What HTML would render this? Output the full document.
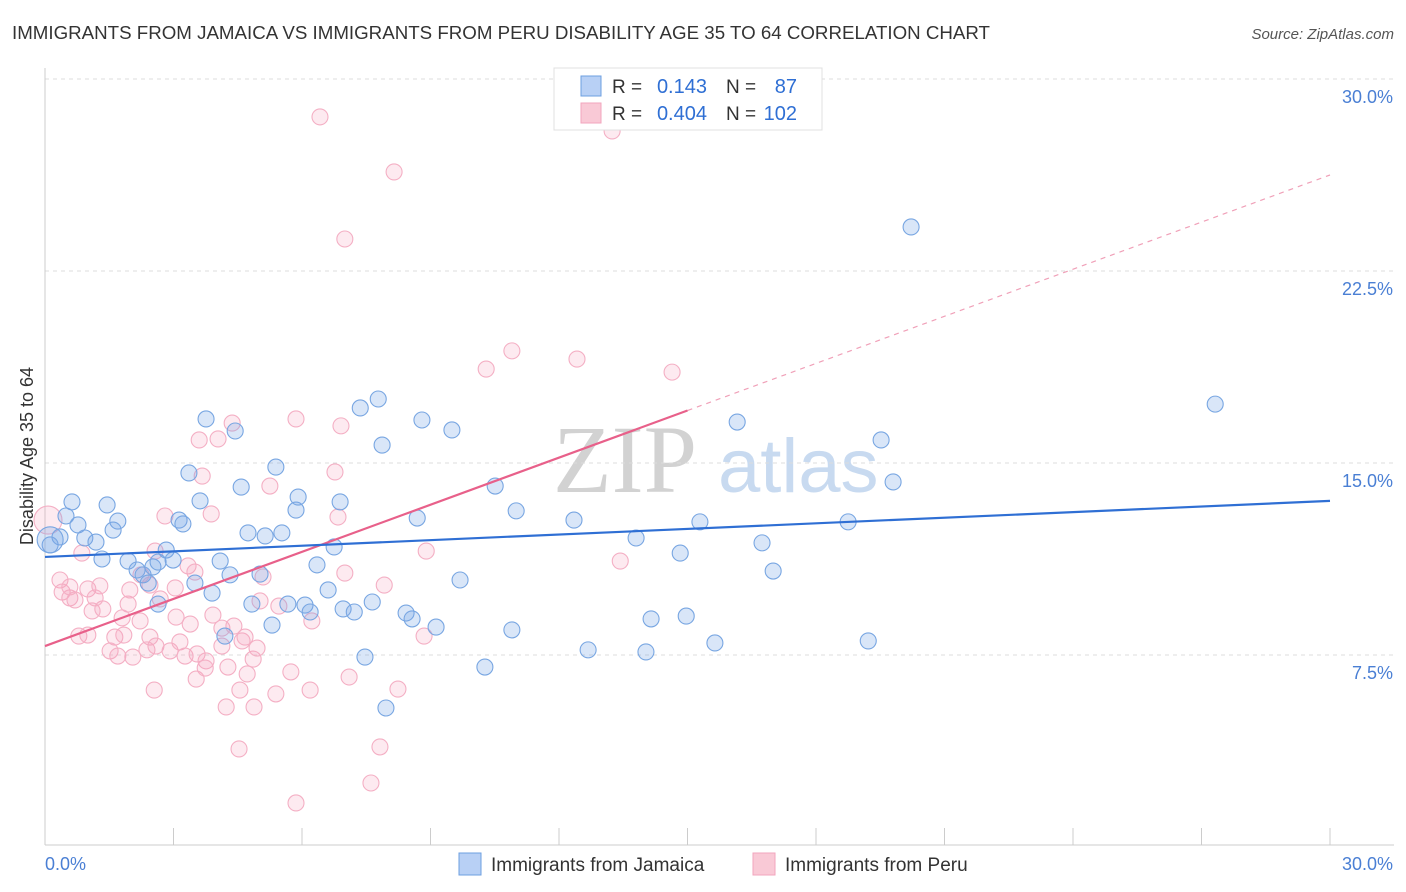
<!DOCTYPE html>
<html><head><meta charset="utf-8"><style>
body{margin:0;background:#fff;font-family:"Liberation Sans",sans-serif;}
#wrap{position:relative;width:1406px;height:892px;overflow:hidden;}
</style></head><body>
<div id="wrap">
<svg id="chart" width="1406" height="892"></svg>
</div>
<script>
const yTicks=[7.5,15.0,22.5,30.0];
const yTickLabels=["7.5%","15.0%","22.5%","30.0%"];
const xTickLabels=["0.0%","30.0%"];
const jamX=[0.63,0.49,0.77,0.35,0.12,0.93,1.19,1.45,1.70,1.59,1.33,1.94,2.15,2.29,2.52,2.41,2.64,2.83,2.99,2.64,3.13,3.22,3.36,3.50,3.62,3.76,3.90,4.09,4.20,4.32,4.44,4.58,4.74,4.83,5.02,5.14,5.30,5.39,5.53,5.67,5.86,5.91,6.07,6.19,6.35,6.61,6.75,6.89,6.96,7.22,7.36,7.47,7.64,7.78,7.87,7.96,8.43,8.57,8.69,8.80,9.13,9.50,9.69,10.27,10.51,10.90,11.00,12.35,12.68,13.80,14.03,14.15,14.83,14.97,15.29,15.64,16.16,16.74,17.00,18.75,19.22,19.52,19.80,20.22,27.32,0.12];
const jamY=[13.48,12.93,12.58,12.11,11.80,12.07,11.91,13.36,12.73,12.38,11.25,11.17,10.82,10.63,10.94,10.31,11.13,11.60,11.21,9.49,12.77,12.62,14.61,10.31,13.52,16.72,9.92,11.17,8.24,10.63,16.25,14.06,12.27,9.49,10.66,12.15,8.67,14.84,12.27,9.49,13.16,13.67,9.45,9.18,11.02,10.04,11.72,13.48,9.30,9.18,17.15,7.42,9.57,17.50,15.70,5.43,9.14,8.91,12.85,16.68,8.59,16.29,10.43,7.03,14.10,8.48,13.13,12.77,7.70,12.07,7.62,8.91,11.48,9.02,12.70,7.97,16.60,11.88,10.78,12.70,8.05,15.90,14.26,24.22,17.30,12.0];
const peruX=[6.42,13.24,8.15,7.00,10.90,10.30,12.42,14.64,5.86,6.91,4.37,4.04,3.60,3.67,5.25,6.77,2.80,3.88,6.84,0.07,0.86,2.57,3.34,3.50,5.09,7.00,8.90,7.92,13.43,0.35,0.40,0.58,0.70,1.00,1.28,1.35,1.10,1.94,1.98,2.24,2.45,2.69,3.04,3.06,3.39,3.92,4.13,4.41,5.46,6.23,1.80,0.79,1.00,1.63,1.84,2.22,2.45,1.52,1.70,2.05,2.38,2.59,2.92,3.15,3.27,3.55,3.76,4.13,4.27,4.60,4.86,4.95,5.74,4.72,3.53,2.55,4.55,5.39,6.19,7.10,8.24,4.23,4.88,4.53,7.82,5.86,7.61,8.85,0.58,1.17,4.67,5.02,3.74];
const peruY=[28.52,27.97,26.37,23.75,19.38,18.67,19.06,18.55,16.72,16.45,16.56,15.94,15.90,14.49,14.10,14.65,12.93,13.01,12.89,12.77,11.48,11.56,10.98,10.74,10.55,10.70,11.56,10.23,11.17,10.43,9.96,9.73,9.65,10.08,10.20,9.30,9.22,9.49,10.04,10.63,10.23,9.69,10.12,8.98,8.71,9.06,8.55,8.63,9.41,8.83,8.95,8.24,8.28,8.20,8.28,8.83,8.20,7.66,7.46,7.42,7.70,7.85,7.66,8.01,7.46,7.54,7.27,7.85,7.03,8.05,7.34,7.77,6.84,6.76,6.56,6.13,6.13,5.98,6.13,6.64,6.17,5.47,5.47,3.83,3.91,1.72,2.50,8.24,10.16,9.73,8.20,9.61,6.99];
const jamTrend=[11.33,13.52];
const peruTrend=[7.85,26.25];
const peruSolidEnd=15.0;

const X0=45,X1=1330,Y0=847,PXPER=192/7.5;
const xs=v=>X0+(v/30)*(X1-X0);
const ys=v=>Y0-v*PXPER;
const svg=document.getElementById('chart');
const NS='http://www.w3.org/2000/svg';
function mk(tag,attrs,parent){const e=document.createElementNS(NS,tag);for(const k in attrs)e.setAttribute(k,attrs[k]);(parent||svg).appendChild(e);return e;}

let t=mk('text',{x:12,y:39,'font-size':18,fill:'#333',textLength:978,lengthAdjust:'spacingAndGlyphs'});t.textContent='IMMIGRANTS FROM JAMAICA VS IMMIGRANTS FROM PERU DISABILITY AGE 35 TO 64 CORRELATION CHART';


t=mk('text',{x:1394,y:39,'font-size':15,fill:'#555','text-anchor':'end','font-style':'italic'});t.textContent='Source: ZipAtlas.com';



t=mk('text',{x:553,y:492,'font-size':96,fill:'#d2d2d2','font-family':'Liberation Serif, serif'});t.textContent='ZIP';


t=mk('text',{x:718,y:492,'font-size':76,fill:'#c8daf0'});t.textContent='atlas';



yTicks.forEach((v,i)=>{
 const g=mk('line',{x1:X0,x2:1394,y1:ys(v),y2:ys(v),stroke:'#dcdcdc','stroke-dasharray':'4,4'});
 
 
 const l=mk('text',{x:1393,y:ys(v)+24,'font-size':18,fill:'#4a7fd4','text-anchor':'end'});l.textContent=yTickLabels[i];
 
 
});
let a=mk('line',{x1:X0,x2:X0,y1:68,y2:Y0-2,stroke:'#ccc'});


a=mk('line',{x1:X0,x2:1394,y1:845,y2:845,stroke:'#ccc'});


for(let i=0;i<=10;i++){const x=X0+i*(X1-X0)/10;const tk=mk('line',{x1:x,x2:x,y1:828,y2:845,stroke:'#ccc'});
 
 }
t=mk('text',{x:45,y:870,'font-size':18,fill:'#4a7fd4'});t.textContent=xTickLabels[0];


t=mk('text',{x:1393,y:870,'font-size':18,fill:'#4a7fd4','text-anchor':'end'});t.textContent=xTickLabels[1];


t=mk('text',{x:0,y:0,'font-size':18,fill:'#333','text-anchor':'middle',transform:'translate(33,456) rotate(-90)'});t.textContent='Disability Age 35 to 64';



peruX.forEach((v,i)=>{const c=mk('circle',{cx:xs(v),cy:ys(peruY[i]),r:(i==19?14:8),fill:'rgba(244,160,188,0.22)',stroke:'#f4afc4','stroke-width':1.1});
 
 });
jamX.forEach((v,i)=>{const c=mk('circle',{cx:xs(v),cy:ys(jamY[i]),r:(i==jamX.length-1?13:8),fill:'rgba(120,165,230,0.28)',stroke:'#78a6e2','stroke-width':1.1});
 
 });

const ptY=x=>peruTrend[0]+(peruTrend[1]-peruTrend[0])*x/30;
let ln=mk('line',{x1:xs(peruSolidEnd),y1:ys(ptY(peruSolidEnd)),x2:xs(30),y2:ys(ptY(30)),stroke:'#f0a0b8','stroke-dasharray':'5,5','stroke-width':1.2});


ln=mk('line',{x1:xs(0),y1:ys(ptY(0)),x2:xs(peruSolidEnd),y2:ys(ptY(peruSolidEnd)),stroke:'#e8608a','stroke-width':2.2});


ln=mk('line',{x1:xs(0),y1:ys(jamTrend[0]),x2:xs(30),y2:ys(jamTrend[1]),stroke:'#2f6fd4','stroke-width':2.2});



const lg=mk('g',{});


mk('rect',{x:554,y:68,width:268,height:62,fill:'#fff',stroke:'#e0e0e0'},lg);
[[0,'#b8d0f5','#6d9fe0','0.143','87'],[1,'#f9c9d6','#f2a5bd','0.404','102']].forEach(r=>{
 const y=86+r[0]*27;
 mk('rect',{x:581,y:y-10,width:20,height:20,fill:r[1],stroke:r[2]},lg);
 let tt=mk('text',{x:612,y:y+7,'font-size':19,fill:'#333'},lg);tt.textContent='R =';
 tt=mk('text',{x:707,y:y+7,'font-size':20,fill:'#2f6fd4','text-anchor':'end'},lg);tt.textContent=r[3];
 tt=mk('text',{x:726,y:y+7,'font-size':19,fill:'#333'},lg);tt.textContent='N =';
 tt=mk('text',{x:797,y:y+7,'font-size':20,fill:'#2f6fd4','text-anchor':'end'},lg);tt.textContent=r[4];
});

[[459,'#b8d0f5','#6d9fe0','Immigrants from Jamaica','legend-entry-jamaica'],[753,'#f9c9d6','#f2a5bd','Immigrants from Peru','legend-entry-peru']].forEach(r=>{
 const g=mk('g',{});
 
 
 mk('rect',{x:r[0],y:853,width:22,height:22,fill:r[1],stroke:r[2]},g);
 const tt=mk('text',{x:r[0]+32,y:871,'font-size':19,fill:'#333'},g);tt.textContent=r[3];
});
</script>
</body></html>
